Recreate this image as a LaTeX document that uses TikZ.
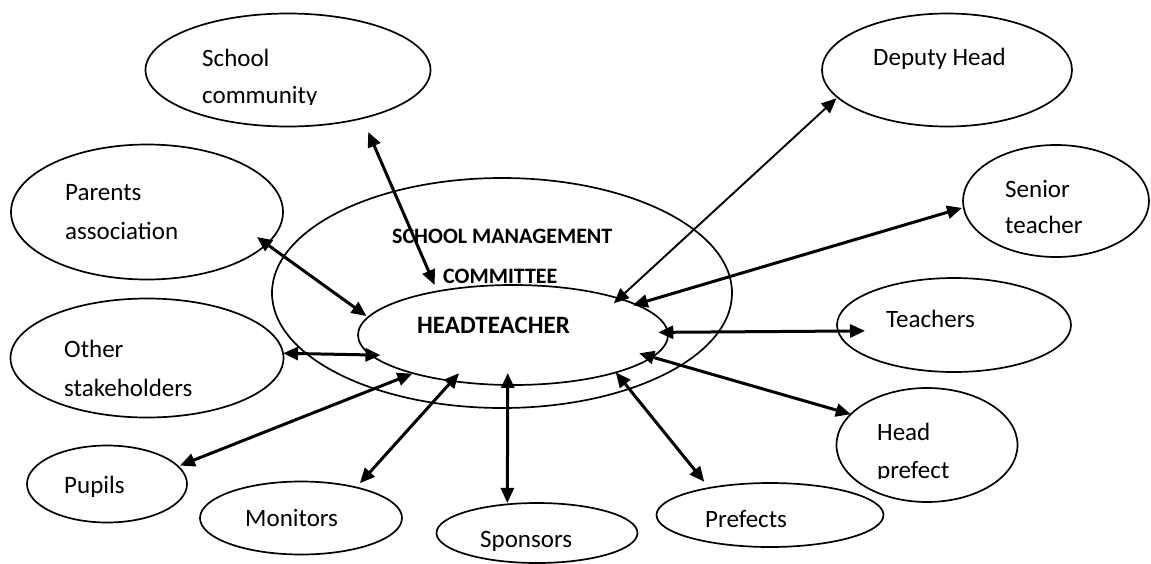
\documentclass[tikz,border=0pt]{standalone}
\usepackage{fontspec}
\setmainfont{Carlito}
\usetikzlibrary{arrows.meta,shapes.geometric}
\begin{document}
\begin{tikzpicture}[x=1pt,y=-1pt,
  bubble/.style={draw,ellipse,line width=1.7pt,inner sep=0pt,outer sep=0pt},
  lbl/.style={anchor=base west,inner sep=0pt,font=\fontsize{25}{30}\selectfont},
  boldlbl/.style={anchor=base west,inner sep=0pt,font=\fontsize{22}{26}\selectfont\bfseries},
  link/.style={line width=3pt,{Triangle[length=15pt,width=13pt]}-{Triangle[length=15pt,width=13pt]}},
  thinlink/.style={link,line width=1.9pt},
]
\fill[white] (0,0) rectangle (1151,563);
\useasboundingbox (0,0) rectangle (1151,563);

% outer and inner ellipses of the management structure
\node[bubble,minimum width=460pt,minimum height=230pt] (smc) at (502,293) {};
\node[bubble,minimum width=310pt,minimum height=100pt] (ht) at (513,335) {};

% surrounding partners
\node[bubble,minimum width=285pt,minimum height=113pt] (comm) at (288,70) {};
\node[bubble,minimum width=272pt,minimum height=135pt] (par) at (147,212) {};
\node[bubble,minimum width=273pt,minimum height=119pt] (oth) at (147,358) {};
\node[bubble,minimum width=160pt,minimum height=77pt] (pup) at (107,484) {};
\node[bubble,minimum width=202pt,minimum height=73pt] (mon) at (301,518) {};
\node[bubble,minimum width=201pt,minimum height=60pt] (spon) at (537,533) {};
\node[bubble,minimum width=227pt,minimum height=64pt] (pref) at (770,515) {};
\node[bubble,minimum width=181pt,minimum height=114pt] (hp) at (927,445) {};
\node[bubble,minimum width=234pt,minimum height=94pt] (tea) at (954,325) {};
\node[bubble,minimum width=186pt,minimum height=112pt] (sen) at (1056,201) {};
\node[bubble,minimum width=250pt,minimum height=113pt] (dep) at (947,70) {};

% labels
\node[boldlbl] (smcA) at (392,243) {SCHOOL MANAGEMENT};
\node[boldlbl] (smcB) at (443,283) {COMMITTEE};
\node[boldlbl,font=\fontsize{25}{29}\selectfont\bfseries] (htA) at (417,333) {HEADTEACHER};

\node[lbl] (commA) at (202,66) {School};
\begin{scope}
  \clip (150,70) rectangle (430,104);
  \node[lbl] (commB) at (202,103) {community};
\end{scope}
\node[lbl] (parA) at (65,200) {Parents};
\node[lbl] (parB) at (65,239) {association};
\node[lbl] (othA) at (64,357) {Other};
\node[lbl] (othB) at (64,396) {stakeholders};
\node[lbl] (pupA) at (64,493) {Pupils};
\node[lbl] (monA) at (245,526) {Monitors};
\node[lbl] (sponA) at (480,547) {Sponsors};
\node[lbl] (prefA) at (705,527) {Prefects};
\node[lbl] (hpA) at (877,440) {Head};
\begin{scope}
  \clip (840,445) rectangle (1000,478.5);
  \node[lbl] (hpB) at (877,478) {prefect};
\end{scope}
\node[lbl] (teaA) at (886,327) {Teachers};
\node[lbl] (senA) at (1005,197) {Senior};
\node[lbl] (senB) at (1005,233) {teacher};
\node[lbl] (depA) at (873,65) {Deputy Head};

% two-way links with the headteacher
\draw[link,shorten <=15pt,shorten >=7pt] (comm.-33.5) -- (ht.150.7);
\draw[link,shorten <=-12pt,shorten >=2pt] (par.-15) -- (ht.173.5);
\draw[link,shorten >=-9.6pt] (oth.2.1) -- (ht.-172.9);
\draw[link,shorten <=2pt,shorten >=1pt] (pup.14.6) -- (ht.-159.8);
\draw[link,shorten <=5.6pt,shorten >=-10.5pt] (mon.29.1) -- (ht.-143.5);
\draw[link,shorten <=1.4pt,shorten >=-12pt] (spon.136.4) -- (ht.-96.8);
\draw[link,shorten <=8pt] (pref.156.5) -- (ht.-20.8);
\draw[link,shorten >=-13.5pt] (hp.158.7) -- (ht.-9.3);
\draw[link,shorten <=-27pt,shorten >=-9.5pt] (tea.-177) -- (ht.1.5);
\draw[link,shorten <=1.7pt,shorten >=-3pt] (sen.-176) -- (ht.14.9);
\draw[thinlink,shorten <=1.5pt,shorten >=-7pt] (dep.-166.8) -- (ht.19.3);
\end{tikzpicture}
\end{document}
